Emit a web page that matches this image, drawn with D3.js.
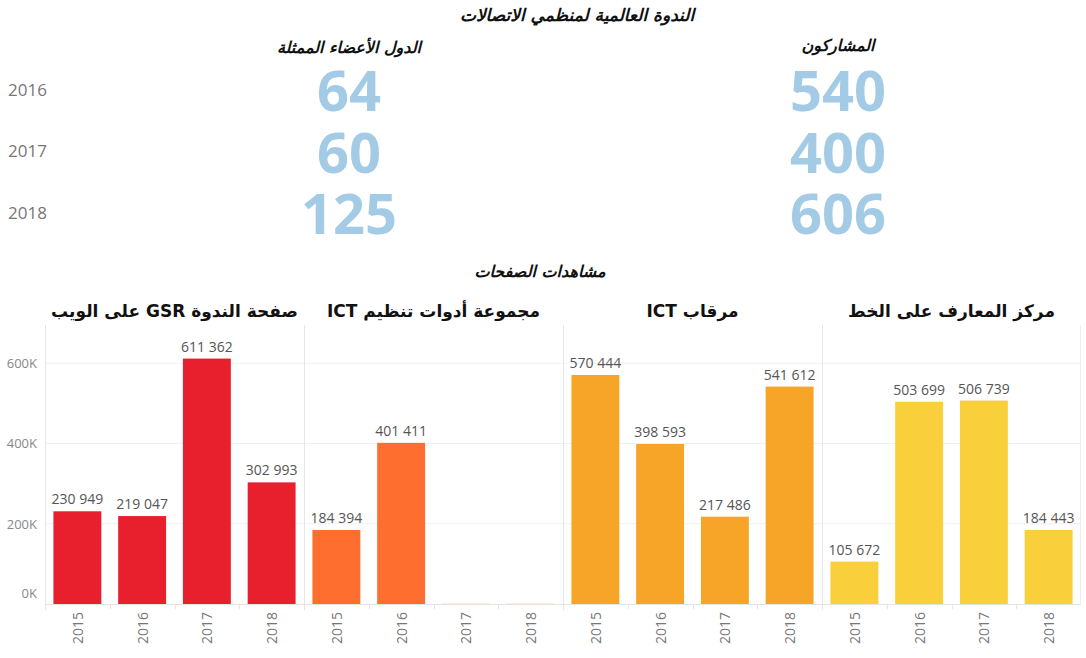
<!DOCTYPE html>
<html lang="ar">
<head>
<meta charset="utf-8">
<script src="https://cdn.jsdelivr.net/npm/d3@7"></script>
<style>
  html, body { margin: 0; padding: 0; background: #fff; }
  svg { display: block; }
</style>
</head>
<body>
<div id="chart"></div>
<script>
// ---- Data ----
const title = "الندوة العالمية لمنظمي الاتصالات";
const summaryYears = ["2016", "2017", "2018"];
const memberStatesHeader = "الدول الأعضاء الممثلة";
const participantsHeader = "المشاركون";
const memberStates = [64, 60, 125];
const participants = [540, 400, 606];

const viewsTitle = "مشاهدات الصفحات";
const panels = [
  "صفحة الندوة GSR على الويب",
  "مجموعة أدوات تنظيم ICT",
  "مرقاب ICT",
  "مركز المعارف على الخط"
];
const years = ["2015", "2016", "2017", "2018"];
const gsrWebPage = [230949, 219047, 611362, 302993];
const regulationToolkit = [184394, 401411, 0, 0];
const ictEye = [570444, 398593, 217486, 541612];
const knowledgeCentre = [105672, 503699, 506739, 184443];
const panelValues = [gsrWebPage, regulationToolkit, ictEye, knowledgeCentre];
const panelColors = ["#e81f2d", "#fe6e2f", "#f7a529", "#f9cf3c"];
const yTicks = [0, 200000, 400000, 600000];
const yTickLabels = ["0K", "200K", "400K", "600K"];

// ---- Drawing ----
const W = 1086, H = 658;
const arabicFont = "'DejaVu Sans', sans-serif";
const latinFont = "'Open Sans', 'Noto Sans', sans-serif";

const svg = d3.select("#chart").append("svg")
  .attr("width", W).attr("height", H);

// Header block
svg.append("text")
  .attr("x", 577).attr("y", 15)
  .attr("text-anchor", "middle").attr("dominant-baseline", "central")
  .attr("direction", "rtl")
  .style("font-family", arabicFont).style("font-weight", "bold")
  .style("font-style", "italic").style("font-size", "17px")
  .attr("fill", "#111").text(title);

const colX = d3.scalePoint().domain(["members", "participants"]).range([349, 838]);
const rowY = d3.scalePoint().domain(summaryYears).range([89, 212]);

[["members", memberStatesHeader, 47], ["participants", participantsHeader, 45]].forEach(([k, t, y]) => {
  svg.append("text")
    .attr("x", colX(k)).attr("y", y)
    .attr("text-anchor", "middle").attr("dominant-baseline", "central")
    .attr("direction", "rtl")
    .style("font-family", arabicFont).style("font-weight", "bold")
    .style("font-style", "italic").style("font-size", "16px")
    .attr("fill", "#111").text(t);
});

svg.append("g").selectAll("text").data(summaryYears).join("text")
  .attr("x", 8).attr("y", d => rowY(d))
  .attr("dominant-baseline", "central")
  .style("font-family", latinFont).style("font-size", "17px")
  .attr("fill", "#777").text(d => d);

[["members", memberStates], ["participants", participants]].forEach(([k, vals]) => {
  svg.append("g").selectAll("text").data(vals).join("text")
    .attr("x", colX(k)).attr("y", (d, i) => rowY(summaryYears[i]))
    .attr("text-anchor", "middle").attr("dominant-baseline", "central")
    .style("font-family", latinFont).style("font-weight", "bold")
    .style("font-size", "56px")
    .attr("fill", "#a3cbe6").text(d => d);
});

// Page views section
svg.append("text")
  .attr("x", 540).attr("y", 271)
  .attr("text-anchor", "middle").attr("dominant-baseline", "central")
  .attr("direction", "rtl")
  .style("font-family", arabicFont).style("font-weight", "bold")
  .style("font-style", "italic").style("font-size", "16px")
  .attr("fill", "#111").text(viewsTitle);

const plotTop = 325, plotBottom = 604, plotLeft = 45, plotRight = 1081;
const y = d3.scaleLinear().domain([0, 695000]).range([plotBottom, plotTop]);
const px = d3.scaleBand().domain(panels).range([plotLeft, plotRight]).padding(0);
const bx = d3.scaleBand().domain(years).range([0, px.bandwidth()])
  .paddingInner(0.26).paddingOuter(0.13);

// horizontal gridlines
svg.append("g").selectAll("line").data(yTicks.filter(t => t > 0)).join("line")
  .attr("x1", plotLeft).attr("x2", plotRight)
  .attr("y1", d => y(d)).attr("y2", d => y(d))
  .attr("stroke", "#f0f0f0").attr("stroke-width", 1);

// y-axis labels
svg.append("g").selectAll("text").data(yTicks).join("text")
  .attr("x", 37).attr("y", d => Math.min(y(d), plotBottom - 11))
  .attr("text-anchor", "end").attr("dominant-baseline", "central")
  .style("font-family", latinFont).style("font-size", "13px")
  .attr("fill", "#888").text((d, i) => yTickLabels[i]);

// panel separators
svg.append("g").selectAll("line").data(panels).join("line")
  .attr("x1", d => Math.round(px(d)) + 0.5).attr("x2", d => Math.round(px(d)) + 0.5)
  .attr("y1", plotTop).attr("y2", plotBottom + 6)
  .attr("stroke", "#e6e6e6").attr("stroke-width", 1);
svg.append("line")
  .attr("x1", plotRight - 0.5).attr("x2", plotRight - 0.5)
  .attr("y1", plotTop).attr("y2", plotBottom)
  .attr("stroke", "#eeeeee");

// baseline
svg.append("line")
  .attr("x1", plotLeft).attr("x2", plotRight)
  .attr("y1", plotBottom + 0.5).attr("y2", plotBottom + 0.5)
  .attr("stroke", "#e4e4e4");

panels.forEach((p, pi) => {
  const g = svg.append("g").attr("transform", `translate(${px(p)},0)`);
  const vals = panelValues[pi];

  // panel title
  g.append("text")
    .attr("x", px.bandwidth() / 2).attr("y", 311)
    .attr("text-anchor", "middle").attr("dominant-baseline", "central")
    .attr("direction", "rtl")
    .style("font-family", arabicFont).style("font-weight", "bold")
    .style("font-size", "17px")
    .attr("fill", "#111").text(p);

  // small ticks between year bands
  g.selectAll("line.tick").data(years).join("line").attr("class", "tick")
    .attr("x1", d => Math.round(bx(d) - bx.step() * bx.paddingInner() / 2) + 0.5)
    .attr("x2", d => Math.round(bx(d) - bx.step() * bx.paddingInner() / 2) + 0.5)
    .attr("y1", plotBottom).attr("y2", plotBottom + 5)
    .attr("stroke", "#e6e6e6");

  // bars
  g.selectAll("rect").data(vals).join("rect")
    .attr("x", (d, i) => bx(years[i]))
    .attr("width", bx.bandwidth())
    .attr("y", d => d > 0 ? y(d) : plotBottom - 1)
    .attr("height", d => d > 0 ? plotBottom - y(d) : 1)
    .attr("fill", panelColors[pi])
    .attr("fill-opacity", d => d > 0 ? 1 : 0.15);

  // value labels
  g.selectAll("text.val").data(vals.map((v, i) => ({ v, i })).filter(d => d.v > 0))
    .join("text").attr("class", "val")
    .attr("x", d => bx(years[d.i]) + bx.bandwidth() / 2)
    .attr("y", d => y(d.v) - 7)
    .attr("text-anchor", "middle")
    .style("font-family", latinFont).style("font-size", "14px")
    .attr("fill", "#555")
    .text(d => d3.format(",")(d.v).replace(/,/g, " "));

  // year labels, rotated
  g.selectAll("text.year").data(years).join("text").attr("class", "year")
    .attr("transform", d => `translate(${bx(d) + bx.bandwidth() / 2},612) rotate(-90)`)
    .attr("text-anchor", "end").attr("dominant-baseline", "central")
    .style("font-family", latinFont).style("font-size", "14px")
    .attr("fill", "#777").text(d => d);
});
</script>
</body>
</html>
